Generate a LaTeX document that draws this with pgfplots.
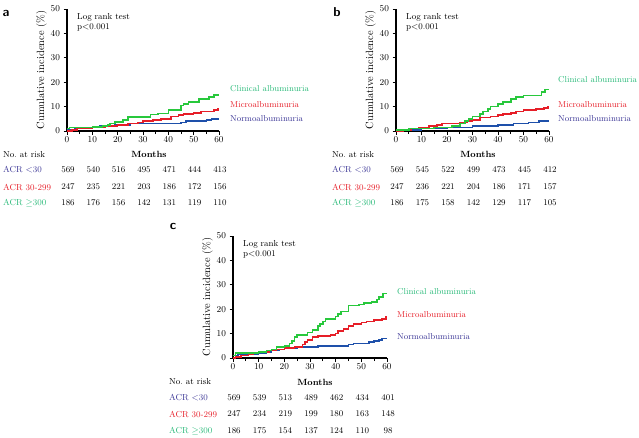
\documentclass[border=0pt]{standalone}
\usepackage{pgfplots}
\pgfplotsset{compat=1.18}
\definecolor{cgreen}{RGB}{40,200,60}
\definecolor{cred}{RGB}{230,30,40}
\definecolor{cblue}{RGB}{30,80,170}
\definecolor{lgreen}{RGB}{40,185,120}
\definecolor{lblue}{RGB}{60,55,150}
\pgfplotsset{
  km/.style={
    scale only axis, clip=false,
    xmin=0, xmax=60, ymin=0, ymax=50,
    axis lines*=left,
    axis line style={line width=1.1pt},
    xtick={0,10,...,60}, ytick={0,10,...,50},
    minor xtick={5,15,...,55},
    tick align=outside,
    major tick length=3.5pt, minor tick length=3pt,
    every tick/.style={black, line width=0.9pt},
    tick label style={font=\fontsize{9.3}{10}\selectfont},
    xticklabel style={yshift=1pt},
    ylabel={Cumulative incidence (\%)},
    ylabel style={font=\fontsize{10.5}{12}\selectfont, yshift=-3pt},
    anchor=south west,
  },
  kml/.style={const plot, line width=1.6pt, mark=none},
}
\begin{document}
\begin{tikzpicture}[font=\fontsize{8.7}{10}\selectfont]
\path[use as bounding box] (0pt,0pt) rectangle (639pt,-437pt);

% ---------------- panel a
\begin{axis}[km, at={(67pt,-131pt)}, width=152pt, height=122pt]
\addplot[kml, cblue] coordinates {(0,0.5)(3,1)(10,1.5)(13,2)(19,2.5)(25,3)(45,3.5)(47,4)(55,4.5)(57,5)(60,5)};
\addplot[kml, cred] coordinates {(0,0)(2,0.5)(4,1)(10,1.5)(15,2)(20,2.5)(24,3)(28,3.5)(30,4)(34,4.5)(37,5)(41,6)(44,6.5)(46,7)(50,7.5)(53,8)(58,8.5)(59.5,9.2)(60,9.2)};
\addplot[kml, cgreen] coordinates {(0,1)(1,1.5)(10,1.7)(14,2)(16,2.5)(17,3)(19,3.8)(22,4.5)(24,5.8)(33,6.8)(36,7.2)(40,8.5)(45,10.5)(46,11)(48,12)(52,13)(56,14)(58,14.7)(60,14.7)};
\end{axis}

% ---------------- panel b
\begin{axis}[km, at={(396pt,-131pt)}, width=153pt, height=122pt]
\addplot[kml, cblue] coordinates {(0,0.5)(10,1)(20,1.5)(30,2)(40,2.5)(46,3)(52,3.5)(56,4)(60,4)};
\addplot[kml, cred] coordinates {(0,0)(3,0.5)(6,1)(9,1.5)(13,2)(16,2.5)(18,3)(25,3.5)(28,4)(30,4.5)(33,5.5)(37,6)(40,6.5)(42,7)(45,7.5)(47,8)(50,8.5)(55,9)(58,9.5)(59.5,10)(60,10)};
\addplot[kml, cgreen] coordinates {(0,0.5)(5,1)(15,1.5)(22,2)(25,3)(27,4)(28.5,5)(30,6)(33,7)(34,8)(36,9)(37,10)(40,11)(42,12)(45,13)(47,14)(50,14.5)(57,16)(58.5,17)(60,17)};
\end{axis}

% ---------------- panel c
\begin{axis}[km, at={(233pt,-358pt)}, width=154pt, height=122pt]
\addplot[kml, cblue] coordinates {(0,1)(2,1.5)(10,2)(13,2.5)(15,3)(18,3.5)(20,4)(25,4.5)(33,5)(45,5.5)(47,6)(53,6.5)(55,7)(57,7.5)(58,8)(60,8)};
\addplot[kml, cred] coordinates {(0,0)(1,0.5)(3,1)(6,1.5)(8,2)(10,2.5)(14,3)(17,3.5)(20,4)(24,4.5)(27,5.5)(28,6.5)(29,7.5)(31,8.5)(33,9)(38,9.5)(40,10)(41,11)(43,12)(45,13)(47,14)(50,14.5)(52,15)(55,15.5)(58,16)(59.7,17)(60,17)};
\addplot[kml, cgreen] coordinates {(0,1)(1,2)(10,2.5)(13,3)(15,3.5)(17,4.5)(20,5)(22,6)(23,7)(24,8.5)(25,9.5)(29,10.5)(31,11.5)(33,13)(34,14)(35,15)(36,16)(40,17)(41,18)(42,19)(45,21.5)(49,22)(51,22.5)(54,23)(56,24)(57,25)(58.5,26.5)(60,26.5)};
\end{axis}

\begin{scope}[x=1pt,y=1pt]
% panel letters
\node[font=\fontsize{13}{13}\sffamily\bfseries] at (6,-13) {a};
\node[font=\fontsize{13}{13}\sffamily\bfseries] at (337,-12) {b};
\node[font=\fontsize{13}{13}\sffamily\bfseries] at (173,-226) {c};

% log rank texts
\node[anchor=north west, align=left, inner sep=0pt, font=\fontsize{8.7}{10}\selectfont] at (77,-13) {Log rank test\\p$<$0.001};
\node[anchor=north west, align=left, inner sep=0pt, font=\fontsize{8.7}{10}\selectfont] at (406,-13) {Log rank test\\p$<$0.001};
\node[anchor=north west, align=left, inner sep=0pt, font=\fontsize{8.7}{10}\selectfont] at (243,-240) {Log rank test\\p$<$0.001};

% curve labels
\begin{scope}[every node/.style={anchor=west, inner sep=0pt, font=\fontsize{8.6}{10}\selectfont}]
\node[lgreen] at (230,-89) {Clinical albuminuria};
\node[cred] at (230,-105) {Microalbuminuria};
\node[lblue] at (230,-119) {Normoalbuminuria};
\node[lgreen] at (558,-80) {Clinical albuminuria};
\node[cred] at (558,-105) {Microalbuminuria};
\node[lblue] at (558,-119) {Normoalbuminuria};
\node[lgreen] at (397,-292) {Clinical albuminuria};
\node[cred] at (397,-315) {Microalbuminuria};
\node[lblue] at (397,-337) {Normoalbuminuria};
\end{scope}

% Months labels
\node[font=\fontsize{9}{10}\selectfont\bfseries] at (149,-154) {Months};
\node[font=\fontsize{9}{10}\selectfont\bfseries] at (478,-154) {Months};
\node[font=\fontsize{9}{10}\selectfont\bfseries] at (315,-382) {Months};

% risk tables
\begin{scope}[every node/.style={anchor=west, inner sep=0pt}]
\node at (3,-155) {No.\ at risk};
\node[lblue] at (3,-170) {ACR $<$30};
\node[cred] at (3,-187) {ACR 30-299};
\node[lgreen] at (3,-203) {ACR $\geq$300};
\node at (332,-155) {No.\ at risk};
\node[lblue] at (332,-170) {ACR $<$30};
\node[cred] at (332,-187) {ACR 30-299};
\node[lgreen] at (332,-203) {ACR $\geq$300};
\node at (169,-382) {No.\ at risk};
\node[lblue] at (169,-398) {ACR $<$30};
\node[cred] at (169,-414) {ACR 30-299};
\node[lgreen] at (169,-431) {ACR $\geq$300};
\end{scope}

\foreach \v [count=\i from 0] in {569,540,516,495,471,444,413} \node at (68+\i*25.33,-170) {\v};
\foreach \v [count=\i from 0] in {247,235,221,203,186,172,156} \node at (68+\i*25.33,-187) {\v};
\foreach \v [count=\i from 0] in {186,176,156,142,131,119,110} \node at (68+\i*25.33,-203) {\v};

\foreach \v [count=\i from 0] in {569,545,522,499,473,445,412} \node at (397+\i*25.5,-170) {\v};
\foreach \v [count=\i from 0] in {247,236,221,204,186,171,157} \node at (397+\i*25.5,-187) {\v};
\foreach \v [count=\i from 0] in {186,175,158,142,129,117,105} \node at (397+\i*25.5,-203) {\v};

\foreach \v [count=\i from 0] in {569,539,513,489,462,434,401} \node at (234+\i*25.67,-398) {\v};
\foreach \v [count=\i from 0] in {247,234,219,199,180,163,148} \node at (234+\i*25.67,-414) {\v};
\foreach \v [count=\i from 0] in {186,175,154,137,124,110,98} \node at (234+\i*25.67,-431) {\v};
\end{scope}
\end{tikzpicture}
\end{document}
